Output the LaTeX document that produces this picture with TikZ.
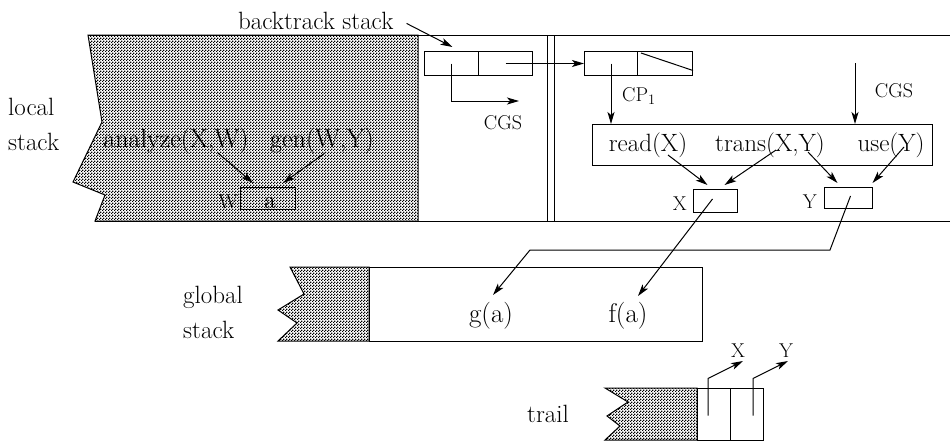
\documentclass[tikz,border=0pt]{standalone}
\usepackage{fontspec}
\usetikzlibrary{arrows.meta,calc,patterns}
\pgfdeclarepatternformonly{halftone}{\pgfpointorigin}{\pgfqpoint{3pt}{3pt}}{\pgfqpoint{3pt}{3pt}}{%
\pgfpathrectangle{\pgfpointorigin}{\pgfqpoint{1.5pt}{1.5pt}}%
\pgfpathrectangle{\pgfqpoint{1.5pt}{1.5pt}}{\pgfqpoint{1.5pt}{1.5pt}}%
\pgfusepath{fill}}
\tikzset{
  lbl/.style={font=\fontsize{25}{30}\selectfont, inner sep=0pt},
  mid/.style={font=\fontsize{26}{30}\selectfont, inner sep=0pt},
  big/.style={font=\fontsize{27}{30}\selectfont, inner sep=0pt},
  sml/.style={font=\fontsize{20}{24}\selectfont, inner sep=0pt},
  cell/.style={draw, line width=1pt, inner sep=0pt, anchor=north west},
  arr/.style={-{Stealth[length=12pt,width=7pt,inset=3pt]}, line width=1pt},
  ln/.style={line width=1pt},
  dotfill/.style={pattern=halftone, draw, line width=1pt}
}
\begin{document}
\begin{tikzpicture}[x=1pt,y=-1pt]
\useasboundingbox (0,0) rectangle (950,442);
% ---------------- local stack
\draw[ln] (88,35) -- (950,35);
\draw[ln] (95,221) -- (950,221);
\draw[dotfill] (88,35) -- (418,35) -- (418,221) -- (95,221) -- (105,195) -- (73,182) -- (102,122) -- cycle;
\draw[ln] (547,35) -- (547,221) (554,35) -- (554,221);
\node[lbl, anchor=base west] (loc1) at (8,115) {local};
\node[lbl, anchor=base west] (loc2) at (8,150) {stack};
% analyze / gen
\node[mid, anchor=base] (an) at (176,147) {analyze(X,W)};
\node[mid, anchor=base] (gn) at (322,147) {gen(W,Y)};
\node[cell, minimum width=55pt, minimum height=22pt] (wb) at (240,187) {};
\node[lbl, anchor=base] (wa) at (270,208) {a};
\node[sml, anchor=base east] (wl) at (238,208) {W};
\draw[arr] ($(an.base)+(42,6)$) -- ($(wb.north)+(-15,-4)$);
\draw[arr] ($(gn.base)+(3,6)$) -- ($(wb.north)+(15,-4)$);
% ---------------- backtrack stack
\node[lbl, anchor=base west] (btl) at (238,29) {backtrack stack};
\node[cell, minimum width=54pt, minimum height=24pt] (bt1) at (424,51) {};
\node[cell, minimum width=54pt, minimum height=24pt] (bt2) at (478,51) {};
\draw[arr] ($(btl.east)+(13,3)$) -- ($(bt1.north)+(1,-4)$);
\coordinate (cgsend) at (519,101);
\draw[arr] (bt1.center) |- (cgsend);
\node[sml, anchor=base] (cgs1) at (503,129) {CGS};
% ---------------- choice point
\node[cell, minimum width=53pt, minimum height=24pt] (cp1a) at (584,51) {};
\node[cell, minimum width=55pt, minimum height=24pt] (cp1b) at (637,51) {};
\draw[ln] ($(cp1b.north west)+(4,2)$) -- ($(cp1b.east)+(0,7)$);
\draw[arr] (bt2.center) -- (cp1a.west);
\node[sml, anchor=base west] (cp1l) at (622,101) {CP$_1$};
% goal box
\node[cell, minimum width=340pt, minimum height=41pt] (goal) at (592,124) {};
\draw[arr] (cp1a.center) -- (cp1a.center |- goal.north);
\node[lbl, anchor=base] (rd) at (648,151) {read(X)};
\node[lbl, anchor=base] (tr) at (770,151) {trans(X,Y)};
\node[lbl, anchor=base] (us) at (891,151) {use(Y)};
\coordinate (cgs2top) at (855,63);
\draw[arr] (cgs2top) -- (cgs2top |- goal.north);
\node[sml, anchor=base] (cgs2) at (894,97) {CGS};
% variable cells
\node[cell, minimum width=44pt, minimum height=23pt] (xb) at (693,189) {};
\node[sml, anchor=base east] (xl) at (687,210) {X};
\node[cell, minimum width=48pt, minimum height=21pt] (yb) at (824,187) {};
\node[sml, anchor=base east] (yl) at (817,208) {Y};
\draw[arr] ($(rd.base)+(20,4)$) -- ($(xb.north)+(-8,-4)$);
\draw[arr] ($(tr.base)+(6,-1)$) -- ($(xb.north)+(9,-4)$);
\draw[arr] ($(tr.base)+(38,1)$) -- ($(yb.north)+(-11,-4)$);
\draw[arr] ($(us.base)+(13,-4)$) -- ($(yb.north)+(24,-4)$);
% ---------------- global stack
\draw[dotfill] (290,267) -- (369,267) -- (369,341) -- (278,341) -- (297,323) -- (278,310) -- (304,294) -- cycle;
\node[cell, minimum width=333pt, minimum height=74pt] (gbox) at (369,267) {};
\node[lbl, anchor=base west] (gl1) at (183,303) {global};
\node[lbl, anchor=base west] (gl2) at (183,338) {stack};
\node[big, anchor=base] (ga) at (491,322) {g(a)};
\node[big, anchor=base] (fa) at (628,322) {f(a)};
\draw[arr] ($(xb.center)+(-3,-2)$) -- ($(fa.base)+(10,-26)$);
\draw[arr] ($(yb.center)+(2,-2)$) -- (830,250) -- (530,250) -- ($(ga.base)+(2,-27)$);
% ---------------- trail
\draw[dotfill] (605,388) -- (697,388) -- (697,440) -- (605,440) -- (620,426) -- (607,416) -- (628,402) -- cycle;
\node[cell, minimum width=33pt, minimum height=52pt] (tr1) at (697,388) {};
\node[cell, minimum width=33pt, minimum height=52pt] (tr2) at (730,388) {};
\node[lbl, anchor=base west] (trl) at (527,422) {trail};
\node[sml, anchor=base] (tx) at (738,357) {X};
\node[sml, anchor=base] (ty) at (786,357) {Y};
\draw[arr] ($(tr1.center)+(-6,1)$) -- ++(0,-37) -- ($(tx.base)+(5,4)$);
\draw[arr] ($(tr2.center)+(6,1)$) -- ++(0,-37) -- ($(ty.base)+(2,4)$);
\end{tikzpicture}
\end{document}
